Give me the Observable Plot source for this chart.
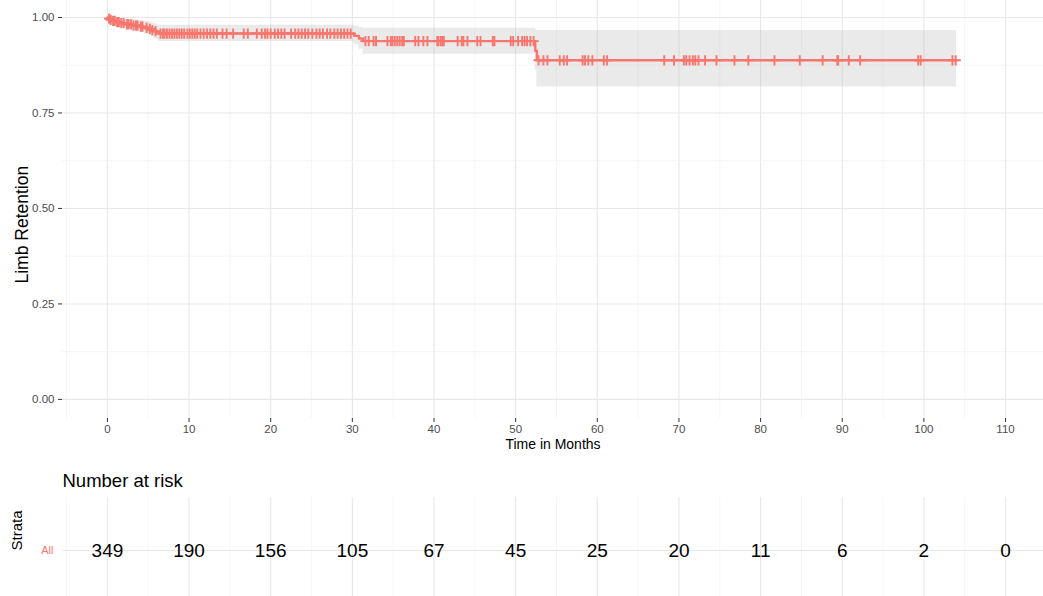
<!DOCTYPE html>
<html><head><meta charset="utf-8">
<script src="https://cdn.jsdelivr.net/npm/d3@7"></script>
<script src="https://cdn.jsdelivr.net/npm/@observablehq/plot@0.6"></script>
<style>
body{margin:0;background:#fff;font-family:"Liberation Sans",Arial,sans-serif}
#chart svg{display:block}
#main [aria-label="x-axis tick label"], #main [aria-label="y-axis tick label"]{fill:#4d4d4d}
#main [aria-label="x-axis tick"], #main [aria-label="y-axis tick"]{stroke:#333}
#risk [aria-label="y-axis tick label"]{fill:#F8766D}
</style>
</head><body><div id="chart"></div>
<script>
// Kaplan-Meier step curve (time in months, survival, 95% CI)
const stepTime  = [0, 0.1, 0.3, 0.6, 1.0, 1.5, 2.2, 3.0, 3.8, 4.5, 5.0, 5.4, 5.7, 6.0, 6.3, 30.2, 30.8, 31.3, 52.4, 52.6];
const stepSurv  = [1.000, 0.997, 0.994, 0.991, 0.988, 0.985, 0.982, 0.979, 0.976, 0.973, 0.970, 0.967, 0.964, 0.961, 0.958, 0.952, 0.945, 0.938, 0.913, 0.888];
const stepUpper = [1.000, 1.000, 1.000, 0.999, 0.998, 0.997, 0.995, 0.994, 0.992, 0.990, 0.988, 0.986, 0.984, 0.982, 0.980, 0.977, 0.974, 0.972, 0.968, 0.966];
const stepLower = [1.000, 0.991, 0.986, 0.981, 0.977, 0.973, 0.969, 0.965, 0.961, 0.957, 0.953, 0.949, 0.945, 0.941, 0.937, 0.929, 0.917, 0.904, 0.862, 0.818];
const endTime = 104;

// censoring times (months)
const censorTimes = [
  0.2, 0.4, 0.7, 0.9, 1.2, 1.4, 1.7, 2.0, 2.4, 2.6, 2.9, 3.2, 3.5, 3.7, 4.1, 4.3, 4.8, 5.2, 5.5, 5.9,
  6.5, 6.8, 7.0, 7.3, 7.6, 7.9, 8.2, 8.5, 8.8, 9.1, 9.4, 9.8, 10.1, 10.4, 10.7, 11.0, 11.4, 11.8, 12.2, 12.6, 13.0, 13.4,
  14.1, 14.6, 15.4, 16.7, 17.2, 18.3, 18.9, 19.3, 19.6, 20.0, 20.5, 20.9, 21.3, 21.7, 22.5, 23.0, 23.4, 23.8,
  24.2, 24.6, 25.1, 25.6, 26.0, 26.4, 26.9, 27.3, 27.8, 28.2, 28.6, 29.0, 29.4, 29.8,
  31.6, 32.0, 32.6, 32.9, 34.3, 34.7, 34.9, 35.2, 35.5, 35.8, 36.1, 36.3, 37.7, 38.1, 38.7, 39.2,
  40.4, 40.5, 40.8, 41.0, 41.2, 42.9, 43.4, 43.6, 44.1, 45.3, 45.7, 47.2, 47.4, 49.4, 49.7,
  50.3, 50.8, 51.1, 51.4, 51.8, 52.2,
  52.8, 53.4, 53.9, 55.4, 55.9, 56.3, 58.2, 58.5, 58.9, 59.4, 60.8, 61.2,
  68.2, 69.4, 70.6, 70.9, 71.3, 71.7, 72.0, 72.4, 73.2, 74.6, 76.8, 78.5, 81.7, 84.8, 87.6, 89.4, 89.5,
  90.8, 92.2, 99.3, 99.6, 103.5, 103.9
];

// axis ticks
const xTicks = [0, 10, 20, 30, 40, 50, 60, 70, 80, 90, 100, 110];
const xMinor = [-5, 5, 15, 25, 35, 45, 55, 65, 75, 85, 95, 105];
const yTicks = [0, 0.25, 0.5, 0.75, 1];
const yMinor = [0.125, 0.375, 0.625, 0.875];

// number at risk table
const riskTimes  = [0, 10, 20, 30, 40, 50, 60, 70, 80, 90, 100, 110];
const riskCounts = [349, 190, 156, 105, 67, 45, 25, 20, 11, 6, 2, 0];
const strata = "All";

const red = "#F8766D";
const km = stepTime.map((t, i) => ({t, s: stepSurv[i], lo: stepLower[i], hi: stepUpper[i]}));
const last = km[km.length - 1];
km.push({t: endTime, s: last.s, lo: last.lo, hi: last.hi});
const survAt = t => { let s = 1; for (const d of km) if (d.t <= t) s = d.s; return s; };
const censor = censorTimes.map(t => ({t, s: survAt(t)}));
const risk = riskTimes.map((t, i) => ({t, n: riskCounts[i], strata}));

const xDomain = [-5.5, 114.65];
const font = "Liberation Sans, Arial, sans-serif";

const main = Plot.plot({
  width: 1043, height: 460,
  marginLeft: 62, marginRight: 0, marginTop: 0, marginBottom: 42,
  style: {fontFamily: font, background: "white", overflow: "visible"},
  x: {domain: xDomain},
  y: {domain: [-0.05, 1 + 17 / 382]},
  marks: [
    Plot.gridX(xMinor, {stroke: "#f1f1f1", strokeOpacity: 1, strokeWidth: 0.7}),
    Plot.gridX(xTicks, {stroke: "#e8e8e8", strokeOpacity: 1, strokeWidth: 1.1}),
    Plot.gridY(yMinor, {stroke: "#f1f1f1", strokeOpacity: 1, strokeWidth: 0.7}),
    Plot.gridY(yTicks, {stroke: "#e8e8e8", strokeOpacity: 1, strokeWidth: 1.1}),
    Plot.areaY(km, {x: "t", y1: "lo", y2: "hi", curve: "step-after", fill: "#b5b5b5", fillOpacity: 0.28}),
    Plot.line(km, {x: "t", y: "s", curve: "step-after", stroke: red, strokeWidth: 2.4}),
    Plot.dot(censor, {x: "t", y: "s", symbol: "plus", r: 3.4, stroke: red, strokeWidth: 1.9}),
    Plot.axisX(xTicks, {tickSize: 4, tickPadding: 2, fontSize: 11.5, label: null}),
    Plot.axisY(yTicks, {tickSize: 4, tickPadding: 4, fontSize: 11.5, label: null, tickFormat: d3.format(".2f")}),
    Plot.text(["Time in Months"], {frameAnchor: "bottom", dy: 30, fontSize: 14, fill: "black"}),
    Plot.text(["Limb Retention"], {frameAnchor: "left", dx: -40, dy: 74, rotate: -90, fontSize: 17.5, fill: "black"})
  ]
});
main.id = "main";

const riskPlot = Plot.plot({
  width: 1043, height: 136,
  marginLeft: 62, marginRight: 0, marginTop: 37, marginBottom: 0,
  style: {fontFamily: font, background: "white", overflow: "visible"},
  x: {domain: xDomain, axis: null},
  y: {type: "band", domain: [strata], range: [37, 143], padding: 0, axis: null},
  marks: [
    Plot.gridX(xMinor, {stroke: "#f1f1f1", strokeOpacity: 1, strokeWidth: 0.7}),
    Plot.gridX(xTicks, {stroke: "#e8e8e8", strokeOpacity: 1, strokeWidth: 1.1}),
    Plot.gridY([strata], {stroke: "#e8e8e8", strokeOpacity: 1, strokeWidth: 1.1}),
    Plot.text(risk, {x: "t", y: "strata", text: "n", fontSize: 19, fill: "black"}),
    Plot.axisY([strata], {tickSize: 0, tickPadding: 9, fontSize: 11, label: null}),
    Plot.text(["Strata"], {frameAnchor: "left", dx: -45, dy: 3.5, rotate: -90, fontSize: 15, fill: "black"}),
    Plot.text(["Number at risk"], {frameAnchor: "top-left", dy: -11, lineAnchor: "bottom", textAnchor: "start", fontSize: 18.5, fill: "black"})
  ]
});
riskPlot.id = "risk";

const c = document.getElementById("chart");
c.appendChild(main);
c.appendChild(riskPlot);
</script>
</body></html>
